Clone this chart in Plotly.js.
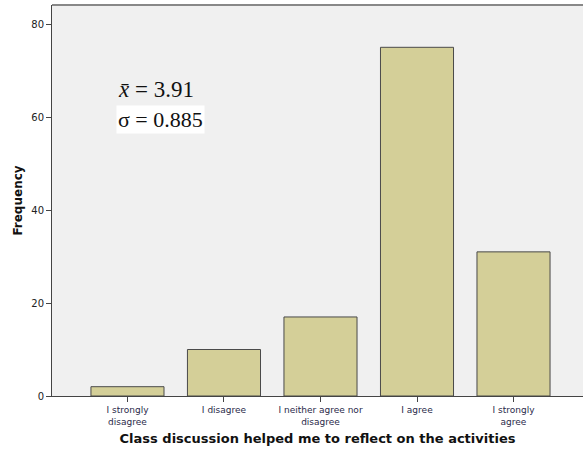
<!DOCTYPE html>
<html><head><meta charset="utf-8">
<script src="https://cdn.plot.ly/plotly-3.0.1.min.js"></script>
<style>html,body{margin:0;padding:0;background:#fff}</style>
</head><body>
<div id="chart" style="width:583px;height:449px"></div>
<script>
const categories = ["I strongly<br>disagree", "I disagree", "I neither agree nor<br>disagree", "I agree", "I strongly<br>agree"];
const frequency = [2, 10, 17, 75, 31];
const yTicks = [0, 20, 40, 60, 80];
const meanText = "3.91";
const sdText = "0.885";

const trace = {
  type: "bar",
  x: [0, 1, 2, 3, 4],
  y: frequency,
  width: 0.757,
  marker: {color: "#d4cf98", line: {color: "#4a4a4a", width: 1}},
  hoverinfo: "none"
};

const layout = {
  width: 583, height: 449,
  margin: {l: 52, r: 0, t: 5, b: 53},
  paper_bgcolor: "#ffffff",
  plot_bgcolor: "#f0f0f0",
  showlegend: false,
  xaxis: {
    range: [-0.782, 4.72],
    tickvals: [0, 1, 2, 3, 4],
    ticktext: categories,
    ticks: "outside", ticklen: 5, tickcolor: "#444",
    showline: true, linecolor: "#444", linewidth: 1,
    showgrid: false, zeroline: false,
    tickfont: {family: "DejaVu Sans", size: 9, color: "#2a2a4a", lineheight: 0.85},
    title: {text: "<b>Class discussion helped me to reflect on the activities</b>", font: {family: "DejaVu Sans", size: 13, color: "#111"}, standoff: 8}
  },
  yaxis: {
    range: [0, 84.1],
    tickvals: yTicks,
    ticks: "outside", ticklen: 5, tickcolor: "#444",
    showline: true, linecolor: "#444", linewidth: 1,
    showgrid: false, zeroline: false,
    tickfont: {family: "DejaVu Sans", size: 10, color: "#222"},
    title: {text: "<b>Frequency</b>", font: {family: "DejaVu Sans", size: 12, color: "#111"}, standoff: 6}
  },
  shapes: [
    {type: "line", xref: "paper", yref: "paper", x0: 0, x1: 1, y0: 1, y1: 1, line: {color: "#888", width: 2}}
  ],
  annotations: [
    {xref: "paper", yref: "paper", x: 0.12, y: 0.785, xanchor: "left", yanchor: "middle", showarrow: false,
     text: "<i>x̄</i> = " + meanText, font: {family: "Liberation Serif", size: 23, color: "#111"}},
    {xref: "paper", yref: "paper", x: 0.12, y: 0.707, xanchor: "left", yanchor: "middle", showarrow: false,
     bgcolor: "#ffffff", borderpad: 1,
     text: "σ = " + sdText, font: {family: "Liberation Serif", size: 22, color: "#111"}}
  ]
};

Plotly.newPlot("chart", [trace], layout, {displayModeBar: false, staticPlot: true});
</script>
</body></html>
